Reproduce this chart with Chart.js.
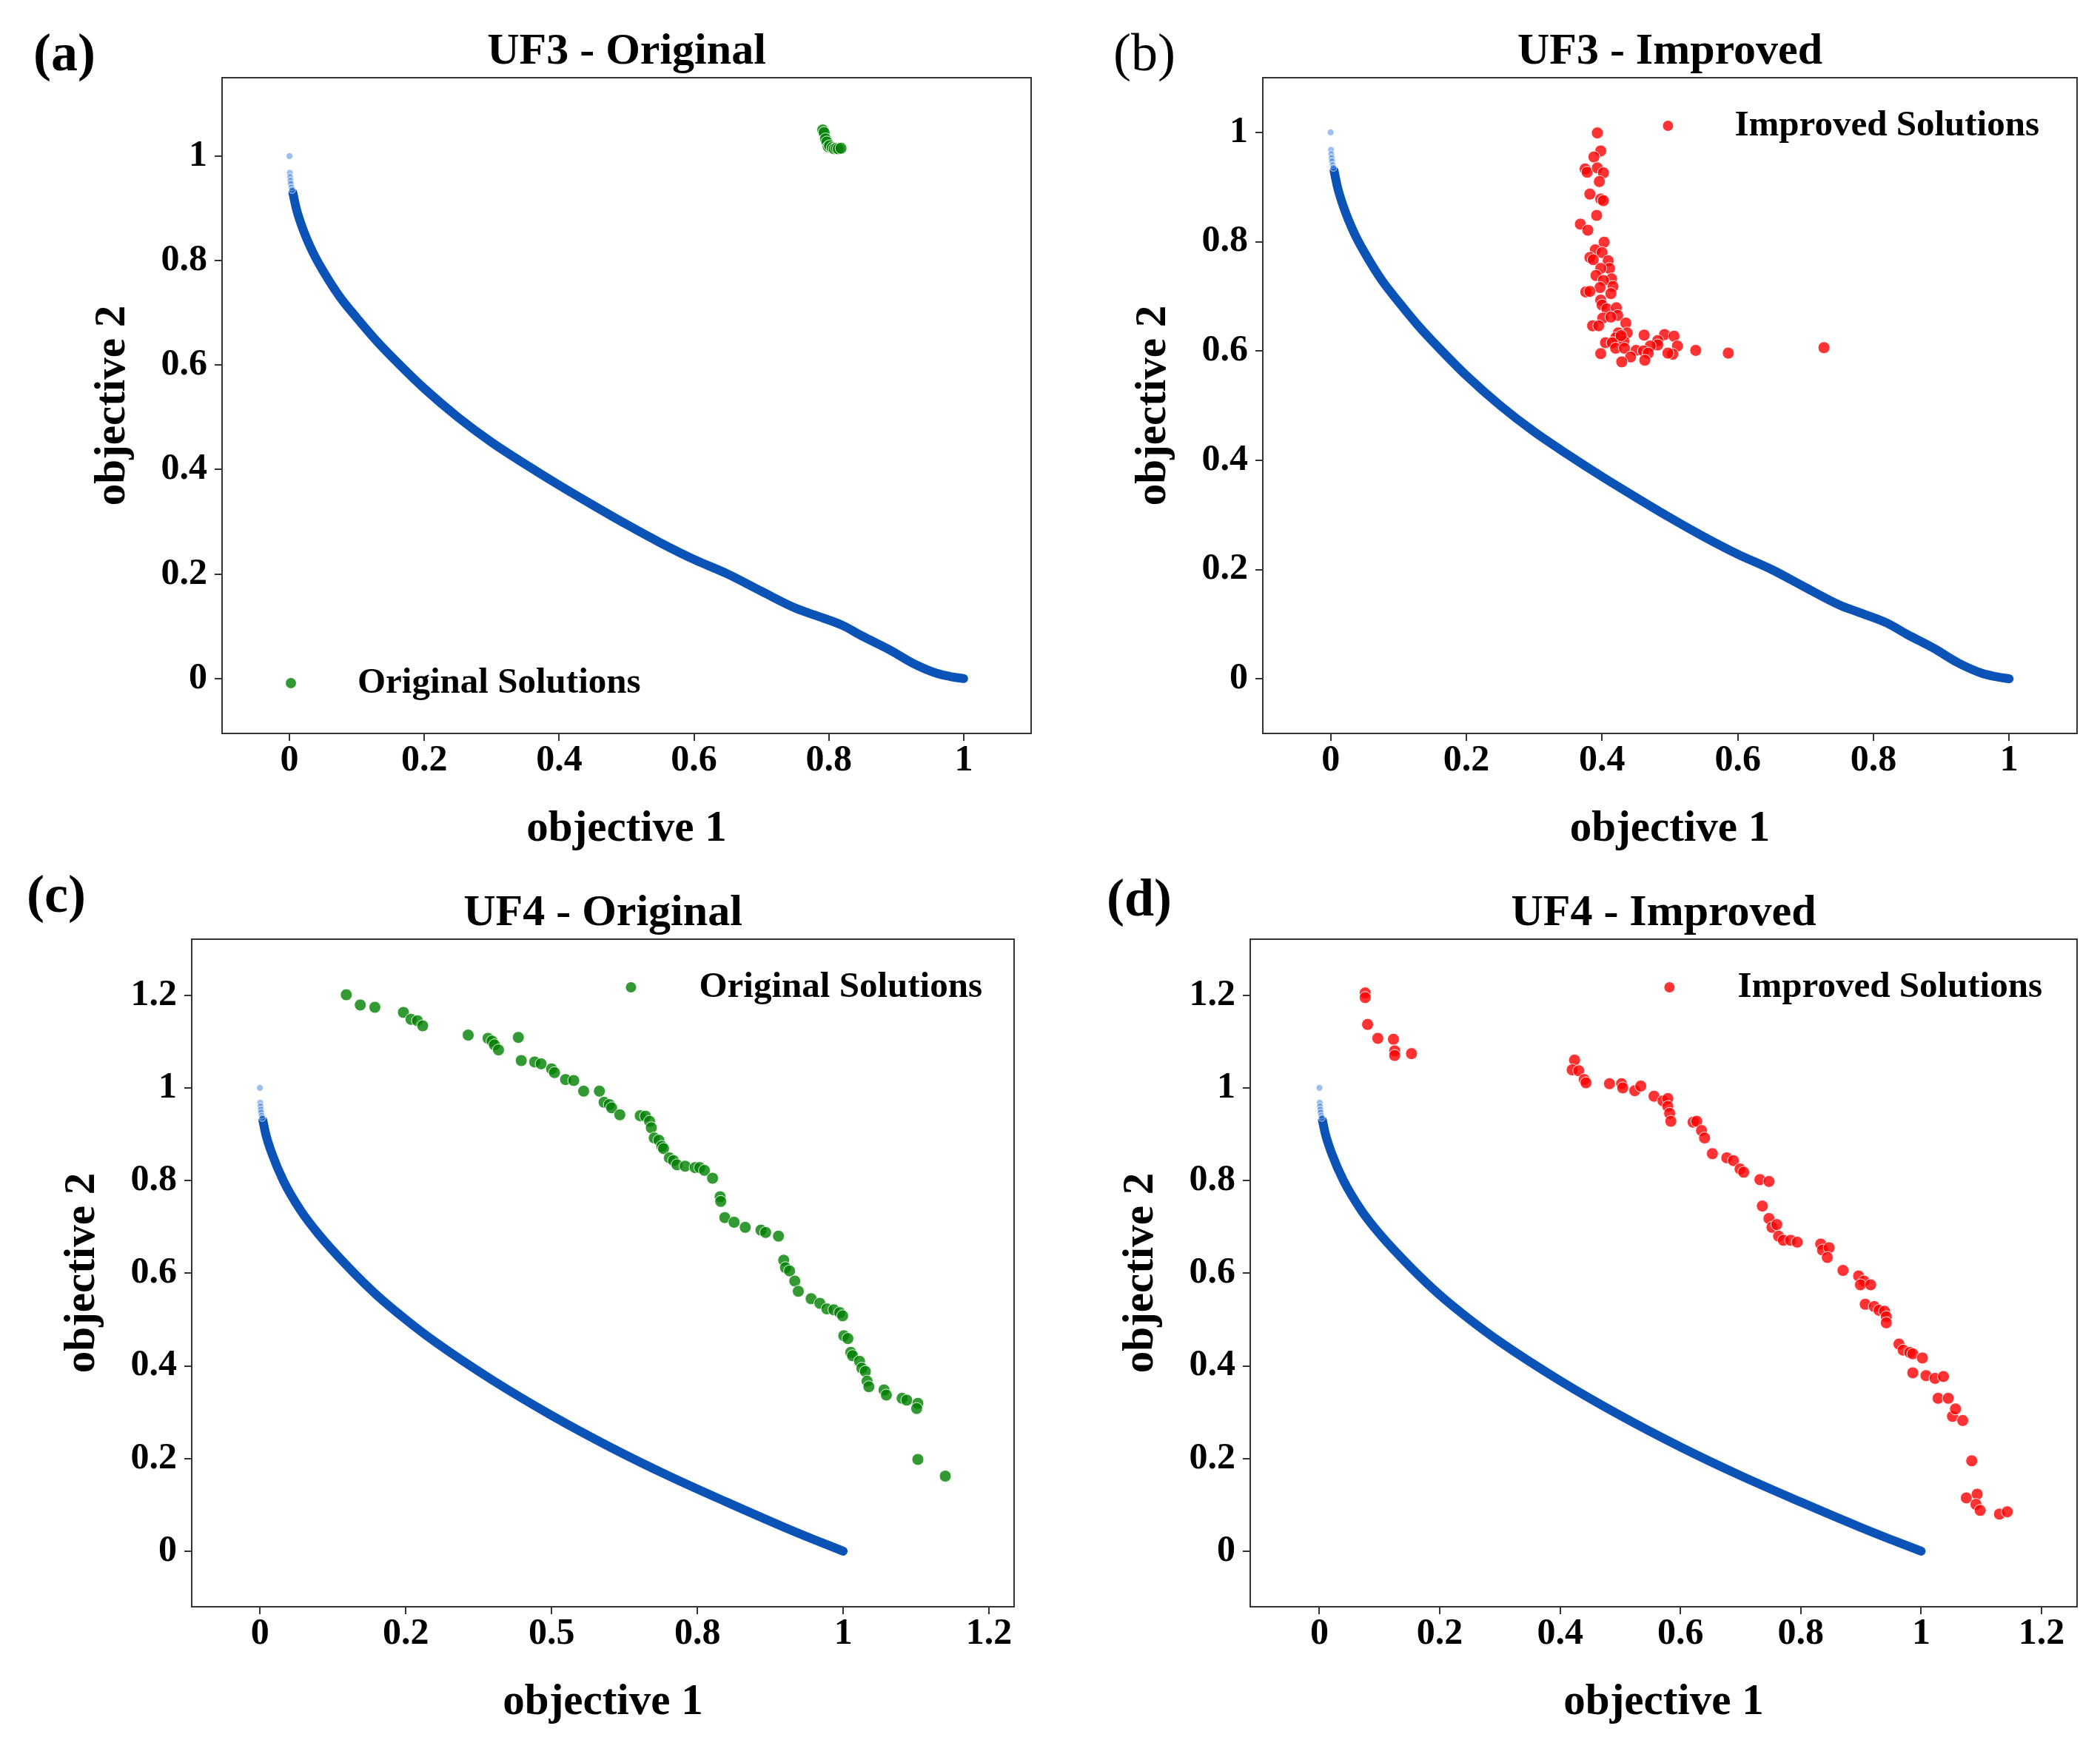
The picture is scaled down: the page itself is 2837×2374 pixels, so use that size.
<!DOCTYPE html>
<html><head><meta charset="utf-8">
<script src="https://cdn.jsdelivr.net/npm/chart.js@4.4.1/dist/chart.umd.min.js"></script>
<style>
html,body{margin:0;padding:0;background:#fff;}
#wrap{position:relative;width:2837px;height:2374px;overflow:hidden;background:#fff;}
canvas{position:absolute;}
.lbl{position:absolute;font-family:'Liberation Serif','Times New Roman',serif;font-size:72px;line-height:1;color:#000;white-space:nowrap;}
</style></head><body>
<div id="wrap">
<canvas id="ca"></canvas><canvas id="cb"></canvas><canvas id="cc"></canvas><canvas id="cd"></canvas>
<div class="lbl" style="left:45px;top:35px;font-weight:bold">(a)</div>
<div class="lbl" style="left:1504px;top:35px;font-weight:normal">(b)</div>
<div class="lbl" style="left:36px;top:1172px;font-weight:bold">(c)</div>
<div class="lbl" style="left:1495px;top:1177px;font-weight:bold">(d)</div>
</div>
<script>
// ---------- data ----------
const uf3FrontX = [0.005,0.01,0.02,0.035,0.05,0.075,0.1,0.13,0.16,0.2,0.25,0.3,0.35,0.4,0.45,0.5,0.55,0.6,0.65,0.7,0.75,0.78,0.82,0.85,0.89,0.925,0.96,0.98,1.0];
const uf3FrontY = [0.93,0.9,0.86,0.815,0.78,0.73,0.69,0.645,0.605,0.555,0.5,0.452,0.41,0.37,0.332,0.295,0.26,0.228,0.2,0.167,0.135,0.121,0.102,0.081,0.055,0.029,0.010,0.004,0.0];
const uf4FrontX = [0.005,0.01,0.02,0.04,0.07,0.1,0.15,0.2,0.25,0.3,0.4,0.5,0.6,0.7,0.8,0.9,0.95,1.0];
const uf4FrontY = [0.93,0.90,0.86,0.80,0.735,0.685,0.615,0.553,0.5,0.452,0.368,0.293,0.225,0.163,0.106,0.051,0.025,0.0];
const frontStartX = [0,0.0005,0.001,0.0015,0.002,0.003,0.004];
const frontStartY = [1.0,0.968,0.96,0.953,0.947,0.94,0.935];

const uf3OrigX = [0.791,0.793,0.795,0.797,0.799,0.801,0.805,0.808,0.811,0.814,0.818];
const uf3OrigY = [1.050,1.045,1.033,1.027,1.018,1.020,1.016,1.014,1.015,1.014,1.015];

const uf3ImpX = [0.393,0.398,0.388,0.375,0.378,0.393,0.402,0.396,0.382,0.398,0.402,0.392,0.368,0.379,0.403,0.390,0.400,0.382,0.387,0.409,0.411,0.398,0.391,0.414,0.402,0.416,0.397,0.376,0.382,0.413,0.398,0.400,0.407,0.421,0.423,0.401,0.413,0.386,0.395,0.435,0.437,0.424,0.428,0.420,0.462,0.492,0.506,0.511,0.482,0.482,0.471,0.405,0.415,0.432,0.420,0.433,0.450,0.461,0.468,0.442,0.463,0.429,0.398,0.504,0.538,0.586,0.727,0.497,0.428];
const uf3ImpY = [0.999,0.966,0.955,0.933,0.927,0.935,0.926,0.910,0.887,0.878,0.875,0.848,0.832,0.821,0.799,0.785,0.780,0.771,0.767,0.765,0.751,0.751,0.738,0.732,0.729,0.718,0.716,0.708,0.709,0.705,0.693,0.684,0.677,0.679,0.665,0.660,0.662,0.646,0.646,0.651,0.633,0.633,0.625,0.624,0.629,0.630,0.627,0.609,0.619,0.611,0.609,0.615,0.615,0.618,0.605,0.605,0.601,0.600,0.596,0.589,0.583,0.580,0.595,0.594,0.601,0.596,0.606,0.596,0.628];

const uf4OrigX = [0.148,0.172,0.197,0.246,0.259,0.270,0.279,0.357,0.391,0.398,0.402,0.409,0.443,0.448,0.471,0.482,0.500,0.505,0.524,0.538,0.555,0.582,0.590,0.599,0.603,0.617,0.652,0.661,0.668,0.671,0.676,0.684,0.689,0.692,0.702,0.709,0.715,0.729,0.746,0.754,0.762,0.776,0.789,0.790,0.797,0.813,0.832,0.859,0.867,0.889,0.898,0.901,0.908,0.917,0.923,0.945,0.960,0.972,0.984,0.994,0.999,1.001,1.008,1.013,1.016,1.028,1.032,1.038,1.041,1.044,1.070,1.074,1.101,1.109,1.128,1.126,1.128,1.175];
const uf4OrigY = [1.201,1.179,1.174,1.163,1.148,1.145,1.134,1.114,1.107,1.101,1.093,1.082,1.109,1.059,1.056,1.052,1.041,1.033,1.018,1.016,0.993,0.993,0.969,0.964,0.957,0.942,0.940,0.939,0.928,0.914,0.892,0.887,0.874,0.869,0.849,0.843,0.834,0.831,0.828,0.828,0.822,0.805,0.765,0.755,0.720,0.710,0.699,0.693,0.688,0.680,0.628,0.612,0.605,0.583,0.561,0.545,0.535,0.523,0.521,0.515,0.508,0.465,0.459,0.429,0.422,0.410,0.395,0.388,0.367,0.355,0.348,0.337,0.330,0.326,0.319,0.308,0.198,0.162];

const uf4ImpX = [0.076,0.076,0.080,0.097,0.123,0.125,0.125,0.153,0.424,0.420,0.431,0.440,0.443,0.482,0.502,0.504,0.524,0.534,0.556,0.571,0.579,0.579,0.582,0.584,0.621,0.627,0.635,0.640,0.653,0.677,0.688,0.699,0.705,0.732,0.747,0.736,0.747,0.752,0.760,0.763,0.771,0.783,0.794,0.833,0.836,0.847,0.844,0.870,0.896,0.905,0.899,0.916,0.907,0.922,0.930,0.939,0.942,0.942,0.963,0.970,0.981,0.986,0.986,1.002,1.008,1.023,1.037,1.028,1.045,1.052,1.057,1.069,1.084,1.075,1.093,1.091,1.098,1.130,1.143];
const uf4ImpY = [1.205,1.195,1.137,1.107,1.105,1.080,1.070,1.074,1.060,1.039,1.037,1.018,1.011,1.009,1.009,1.000,0.994,1.004,0.982,0.972,0.977,0.960,0.945,0.928,0.926,0.928,0.908,0.892,0.858,0.849,0.843,0.825,0.818,0.802,0.798,0.745,0.718,0.699,0.705,0.680,0.671,0.671,0.667,0.663,0.650,0.655,0.634,0.606,0.594,0.583,0.575,0.575,0.533,0.528,0.520,0.518,0.506,0.493,0.447,0.434,0.429,0.426,0.385,0.417,0.379,0.373,0.377,0.330,0.330,0.291,0.307,0.282,0.195,0.115,0.123,0.101,0.088,0.080,0.085];

const yTicksUF3 = [0,0.2,0.4,0.6,0.8,1];
const yTickLabelsUF3 = ['0','0.2','0.4','0.6','0.8','1'];
const xTicksUF3 = [0,0.2,0.4,0.6,0.8,1];
const xTickLabelsUF3 = ['0','0.2','0.4','0.6','0.8','1'];
const yTicksUF4 = [0,0.2,0.4,0.6,0.8,1,1.2];
const yTickLabelsUF4 = ['0','0.2','0.4','0.6','0.8','1','1.2'];
const xTicksC = [0,0.25,0.5,0.75,1,1.25];
const xTickLabelsC = ['0','0.2','0.5','0.8','1','1.2'];
const xTicksD = [0,0.2,0.4,0.6,0.8,1,1.2];
const xTickLabelsD = ['0','0.2','0.4','0.6','0.8','1','1.2'];

// ---------- styling ----------
const FONT = "'Liberation Serif','Times New Roman',serif";
const BLUE = '#0b53b6';
const GREEN = 'rgba(0,128,0,0.8)';
const RED = 'rgba(255,0,0,0.8)';

function pts(xs, ys){ return xs.map((x,i)=>({x:x, y:ys[i]})); }

const frame = { id:'frame', afterDraw(chart){
  const {ctx, chartArea:a} = chart; ctx.save();
  ctx.strokeStyle='#333'; ctx.lineWidth=2;
  ctx.strokeRect(a.left, a.top, a.right-a.left, a.bottom-a.top); ctx.restore(); } };

// panel title centred over the plotting area (as in the reference)
const areaTitle = { id:'areaTitle', afterDraw(chart, args, o){
  const a = chart.chartArea, ctx = chart.ctx; ctx.save();
  ctx.font = 'bold 60px ' + FONT; ctx.fillStyle = '#000';
  ctx.textAlign = 'center'; ctx.textBaseline = 'middle';
  ctx.fillText(o.text, (a.left + a.right) / 2, a.top - o.dy);
  ctx.restore(); } };

const insideLegend = { id:'insideLegend', afterDatasetsDraw(chart, args, o){
  const ds = chart.data.datasets[2]; const a = chart.chartArea; const ctx = chart.ctx;
  ctx.save();
  ctx.font = 'bold 49px ' + FONT;
  let mx, ty, tx;
  if (o.corner === 'll') { mx = a.left + o.dx; ty = a.bottom - o.dy; tx = mx + o.gap; }
  else { const w = ctx.measureText(ds.label).width; tx = a.right - o.dx - w; ty = a.top + o.dy; mx = tx - o.gap; }
  ctx.beginPath(); ctx.arc(mx, ty, 7, 0, Math.PI*2); ctx.fillStyle = ds.backgroundColor; ctx.fill();
  ctx.fillStyle = '#000'; ctx.textAlign='left'; ctx.textBaseline='middle';
  ctx.fillText(ds.label, tx, ty);
  ctx.restore(); } };

function axis(kind, min, max, ticks, labels, title){
  const o = {
    type:'linear', min:min, max:max,
    afterBuildTicks: s => { s.ticks = ticks.map(v=>({value:v})); },
    ticks:{ autoSkip:false, maxRotation:0, color:'#000',
      font:{family:FONT, size:50, weight:'bold', lineHeight:1},
      padding: kind==='x' ? 2 : 10,
      callback:(v,i)=>labels[i] },
    grid:{ display:true, drawOnChartArea:false, drawTicks:true, tickLength:10, color:'#333', lineWidth:2 },
    border:{ display:true, color:'#333', width:2 },
    title:{ display:true, text:title, color:'#000', font:{family:FONT, size:59, weight:'bold', lineHeight:1.2},
      padding: kind==='x' ? {top:0,bottom:14.6} : {top:47.6,bottom:0} }
  };
  if (kind==='x') o.afterFit = s => { s.height = 180; };
  else o.afterFit = s => { s.width = 230; };
  return o;
}

function build(p){
  const cv = document.getElementById(p.id);
  cv.width = p.w; cv.height = p.h;
  cv.style.left = p.left+'px'; cv.style.top = p.top+'px';
  cv.style.width = p.w+'px'; cv.style.height = p.h+'px';
  return new Chart(cv, {
    type:'scatter',
    data:{ datasets:[
      { label:'Pareto front', data:pts(p.frontX,p.frontY), showLine:true, borderColor:BLUE, backgroundColor:BLUE,
        borderWidth:12, pointRadius:0, cubicInterpolationMode:'monotone', borderCapStyle:'round', borderJoinStyle:'round', order:3 },
      { label:'Pareto front start', data:pts(frontStartX,frontStartY), showLine:false, pointRadius:4.5,
        backgroundColor:'rgba(40,110,215,0.45)', borderColor:'rgba(255,255,255,0.8)', borderWidth:1, order:2 },
      { label:p.solLabel, data:pts(p.solX,p.solY), showLine:false, pointRadius:8,
        backgroundColor:p.solColor, borderColor:'rgba(255,255,255,0.9)', borderWidth:1, order:1 }
    ]},
    options:{
      responsive:false, animation:false, devicePixelRatio:1,
      layout:{ padding:{ left:p.padL, right:p.padR, top:p.padT, bottom:p.padB } },
      plugins:{
        legend:{display:false}, tooltip:{enabled:false}, title:{display:false},
        areaTitle:{ text:p.title, dy:35 },
        insideLegend: p.legend
      },
      scales:{
        x: axis('x', p.xMin, p.xMax, p.xTicks, p.xLabels, 'objective 1'),
        y: axis('y', p.yMin, p.yMax, p.yTicks, p.yLabels, 'objective 2')
      }
    },
    plugins:[frame, areaTitle, insideLegend]
  });
}

function draw(){
  build({ id:'ca', left:0, top:0, w:1418, h:1185, padL:70, padR:25, padB:14, padT:105,
    title:'UF3 - Original', frontX:uf3FrontX, frontY:uf3FrontY,
    solX:uf3OrigX, solY:uf3OrigY, solLabel:'Original Solutions', solColor:GREEN,
    xMin:-0.1, xMax:1.1, yMin:-0.105, yMax:1.15,
    xTicks:xTicksUF3, xLabels:xTickLabelsUF3, yTicks:yTicksUF3, yLabels:yTickLabelsUF3,
    legend:{corner:'ll', dx:93, dy:68, gap:90} });
  build({ id:'cb', left:1418, top:0, w:1419, h:1185, padL:58, padR:31, padB:14, padT:105,
    title:'UF3 - Improved', frontX:uf3FrontX, frontY:uf3FrontY,
    solX:uf3ImpX, solY:uf3ImpY, solLabel:'Improved Solutions', solColor:RED,
    xMin:-0.1, xMax:1.1, yMin:-0.1, yMax:1.1,
    xTicks:xTicksUF3, xLabels:xTickLabelsUF3, yTicks:yTicksUF3, yLabels:yTickLabelsUF3,
    legend:{corner:'ur', dx:51, dy:65, gap:90} });
  build({ id:'cc', left:0, top:1185, w:1418, h:1189, padL:29, padR:48, padB:23, padT:84,
    title:'UF4 - Original', frontX:uf4FrontX, frontY:uf4FrontY,
    solX:uf4OrigX, solY:uf4OrigY, solLabel:'Original Solutions', solColor:GREEN,
    xMin:-0.117, xMax:1.293, yMin:-0.12, yMax:1.321,
    xTicks:xTicksC, xLabels:xTickLabelsC, yTicks:yTicksUF4, yLabels:yTickLabelsUF4,
    legend:{corner:'ur', dx:43, dy:65, gap:92} });
  build({ id:'cd', left:1418, top:1185, w:1419, h:1189, padL:41, padR:31, padB:23, padT:84,
    title:'UF4 - Improved', frontX:uf4FrontX, frontY:uf4FrontY,
    solX:uf4ImpX, solY:uf4ImpY, solLabel:'Improved Solutions', solColor:RED,
    xMin:-0.115, xMax:1.259, yMin:-0.12, yMax:1.321,
    xTicks:xTicksD, xLabels:xTickLabelsD, yTicks:yTicksUF4, yLabels:yTickLabelsUF4,
    legend:{corner:'ur', dx:47, dy:65, gap:92} });
}

Promise.all([
  document.fonts.load("bold 50px 'Liberation Serif'"),
  document.fonts.load("50px 'Liberation Serif'")
]).then(draw, draw);
</script>
</body></html>
